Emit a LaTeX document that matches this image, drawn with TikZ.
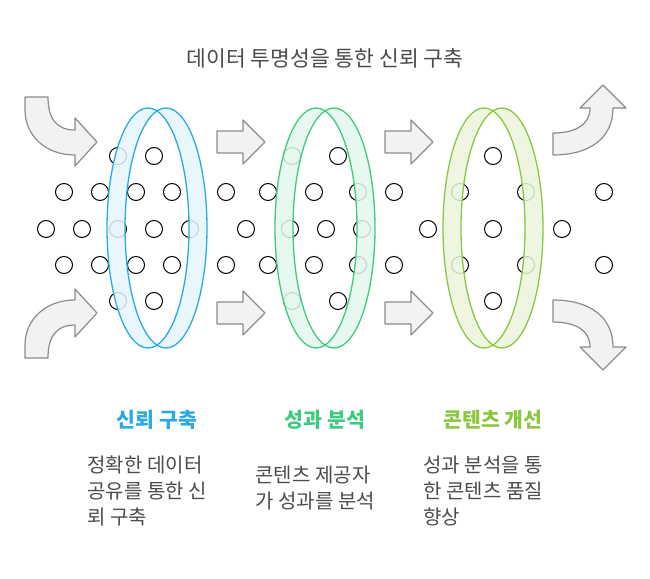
\documentclass[tikz,border=0pt]{standalone}
\usepackage{fontspec}
\setmainfont{Noto Sans CJK KR}
\begin{document}
\begin{tikzpicture}[x=1pt,y=-1pt,
  arr/.style={fill=black!5,draw=black!45,line width=1.2pt,line join=round},
  dot/.style={circle,draw=black,line width=1pt,fill=white,minimum size=17pt,inner sep=0pt},
  ttl/.style={font=\bfseries\fontsize{20.5}{24}\selectfont},
  desc/.style={font=\fontsize{20}{26}\selectfont,text=black!70,align=left,anchor=north west}]
\useasboundingbox (0,0) rectangle (650,578);
\definecolor{cb}{HTML}{29ABE2}\definecolor{cg}{HTML}{3CCB7F}\definecolor{co}{HTML}{8DC63F}
\node (t) at (325,58) {\fontsize{21.5}{24}\selectfont\color{black!70}데이터 투명성을 통한 신뢰 구축};
% curved arrows
\draw[arr] (25,97) -- (48,97) .. controls (48,118) and (56,130) .. (75,130) -- (75,118) -- (97,142) -- (75,166) -- (75,155) .. controls (45,155) and (25,135) .. (25,110) -- cycle;
\draw[arr] (25,358) -- (48,358) .. controls (48,337) and (56,325) .. (75,325) -- (75,337) -- (97,313) -- (75,289) -- (75,300) .. controls (45,300) and (25,320) .. (25,345) -- cycle;
\draw[arr] (553,155) -- (553,133) .. controls (575,133) and (590,125) .. (590,108) -- (580,108) -- (603,85) -- (626,108) -- (613,108) .. controls (613,138) and (590,155) .. (553,155) -- cycle;
\draw[arr] (553,300) -- (553,322) .. controls (575,322) and (590,330) .. (590,347) -- (580,347) -- (603,370) -- (626,347) -- (613,347) .. controls (613,317) and (590,300) .. (553,300) -- cycle;
% straight arrows
\foreach \x in {217,385}{\foreach \y in {142,313}{
 \draw[arr] (\x,\y-11) -- (\x+26,\y-11) -- (\x+26,\y-22) -- (\x+48,\y) -- (\x+26,\y+22) -- (\x+26,\y+11) -- (\x,\y+11) -- cycle;}}
% dots
\foreach \x in {118,154,292,338,493}{\node[dot] at (\x,156){};\node[dot] at (\x,301){};}
\foreach \x in {64,100,136,172,226,268,314,358,394,460,526,604}{\node[dot] at (\x,192){};\node[dot] at (\x,265){};}
\foreach \x in {46,82,118,154,190,246,290,326,362,428,493,562}{\node[dot] at (\x,229){};}
% rings
\foreach \c/\f/\cx in {cb/cb!12/148,cg/cg!15/316,co/co!18/484}{
 \fill[\f,opacity=0.85,even odd rule] (\cx+18,228) ellipse (41 and 120) (\cx,228) ellipse (41 and 120);
 \draw[\c,line width=1.3pt] (\cx,228) ellipse (41 and 120);
 \draw[\c,line width=1.3pt] (\cx+18,228) ellipse (41 and 120);}
% labels
\node[ttl,text=cb] (l1) at (157,420) {신뢰 구축};
\node[ttl,text=cg] (l2) at (325,420) {성과 분석};
\node[ttl,text=co] (l3) at (493,420) {콘텐츠 개선};
\node[desc] (d1) at (84,452) {정확한 데이터\\공유를 통한 신\\뢰 구축};
\node[desc] (d2) at (252,462) {콘텐츠 제공자\\가 성과를 분석};
\node[desc] (d3) at (420,452) {성과 분석을 통\\한 콘텐츠 품질\\향상};
\end{tikzpicture}
\end{document}
